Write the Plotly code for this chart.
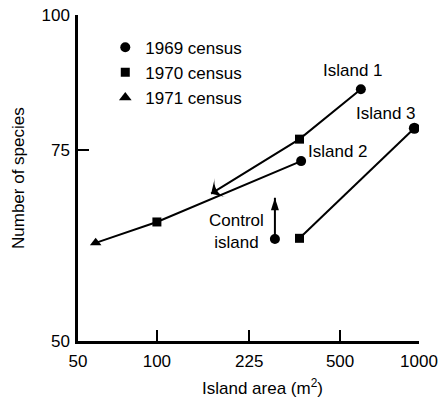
import numpy as np
import plotly.graph_objects as go

# Census labels and marker shapes
census_names = ["1969 census", "1970 census", "1971 census"]
census_symbols = ["circle", "square", "triangle-up"]

# Island areas (m^2) and species counts at each census
island1_area = [600, 350, 161]
island1_species = [85.4, 76.8, 68.4]
island2_area = [355, 100, 58.4]
island2_species = [73.3, 64.4, 61.6]
island3_area = [960, 350]
island3_species = [78.6, 62.2]
control_area = [282, 282]
control_species = [62.1, 67.8]

x_ticks = [50, 100, 225, 500, 1000]
y_ticks = [50, 75, 100]

FONT = "Liberation Sans, Arial, Helvetica, sans-serif"
FS = 17
lg = np.log10

fig = go.Figure()

line_style = dict(color="black", width=2)


def path(xs, ys):
    fig.add_trace(go.Scatter(x=xs, y=ys, mode="lines", line=line_style,
                             showlegend=False, hoverinfo="skip"))


def points(xs, ys, symbols, sizes, **extra):
    fig.add_trace(go.Scatter(
        x=xs, y=ys, mode="markers", showlegend=False,
        marker=dict(symbol=symbols, size=sizes, color="black",
                    opacity=1, line=dict(width=0), **extra),
    ))


# Island 1: 1969 and 1970 censuses, then an arrow to the 1971 census
path(island1_area, island1_species)
points(island1_area[:2], island1_species[:2], census_symbols[:2], [10, 9])
points(island1_area[1:], island1_species[1:], "arrow-wide", [0, 16],
       angleref="previous")

# Island 2: three censuses
path(island2_area, island2_species)
points(island2_area, island2_species, census_symbols, [10, 9, 10])

# Island 3: two censuses
path(island3_area, island3_species)
points(island3_area, island3_species, census_symbols[:2], [11, 9])

# Control island: species gain shown as an upward arrow
path(control_area, control_species)
points(control_area[:1], control_species[:1], "circle", 10)
points(control_area, control_species, "arrow", [0, 13], angleref="previous")

# Legend entries
for name, sym, sz in zip(census_names, census_symbols, [10, 9, 11]):
    fig.add_trace(go.Scatter(
        x=[None], y=[None], mode="markers", name=name,
        marker=dict(symbol=sym, size=sz, color="black"),
    ))

label_font = dict(family=FONT, size=FS, color="black")
annotations = [
    dict(x=lg(island1_area[0]), y=lg(island1_species[0]), xref="x", yref="y",
         text="Island 1", showarrow=False, font=label_font,
         xanchor="center", yanchor="middle", xshift=-8, yshift=19),
    dict(x=lg(island2_area[0]), y=lg(island2_species[0]), xref="x", yref="y",
         text="Island 2", showarrow=False, font=label_font,
         xanchor="left", yanchor="middle", xshift=5, yshift=10),
    dict(x=lg(island3_area[0]), y=lg(island3_species[0]), xref="x", yref="y",
         text="Island 3", showarrow=False, font=label_font,
         xanchor="right", yanchor="middle", xshift=4, yshift=15),
    dict(x=lg(control_area[0]), y=lg(control_species[0]), xref="x", yref="y",
         text="Control<br>island", showarrow=False, font=label_font,
         xanchor="center", yanchor="middle", xshift=-38, yshift=8),
    # axis titles
    dict(x=0.5425, y=-0.141, xref="paper", yref="paper",
         text="Island area (m<sup>2</sup>)", showarrow=False, font=label_font,
         xanchor="center", yanchor="middle"),
    dict(x=-0.176, y=0.5, xref="paper", yref="paper", textangle=-90,
         text="Number of species", showarrow=False, font=label_font,
         xanchor="center", yanchor="middle"),
]

axis_common = dict(
    showline=True, linewidth=2.5, linecolor="black", mirror=False,
    ticks="inside", ticklen=11, tickwidth=2, tickcolor="black",
    showgrid=False, zeroline=False, automargin=False,
    tickfont=dict(family=FONT, size=FS, color="black"),
)

fig.update_xaxes(
    type="log", range=[lg(50) - 1e-6, lg(1000) + 1e-6],
    tickvals=x_ticks, ticktext=[str(v) for v in x_ticks],
    ticklabelstandoff=3, **axis_common,
)
fig.update_yaxes(
    type="log", range=[lg(50) - 1e-6, lg(100) + 1e-6],
    tickvals=y_ticks, ticktext=[str(v) for v in y_ticks],
    ticklabelstandoff=2, **axis_common,
)

fig.update_layout(
    width=439, height=410,
    margin=dict(l=78, r=20, t=15, b=69, autoexpand=False),
    paper_bgcolor="white", plot_bgcolor="white",
    font=dict(family=FONT, size=FS, color="black"),
    annotations=annotations,
    legend=dict(x=0.08, y=0.955, xanchor="left", yanchor="top",
                bgcolor="rgba(0,0,0,0)", borderwidth=0,
                font=dict(family=FONT, size=FS, color="black"),
                itemwidth=30, tracegroupgap=0),
)

fig.write_html("out.html")
